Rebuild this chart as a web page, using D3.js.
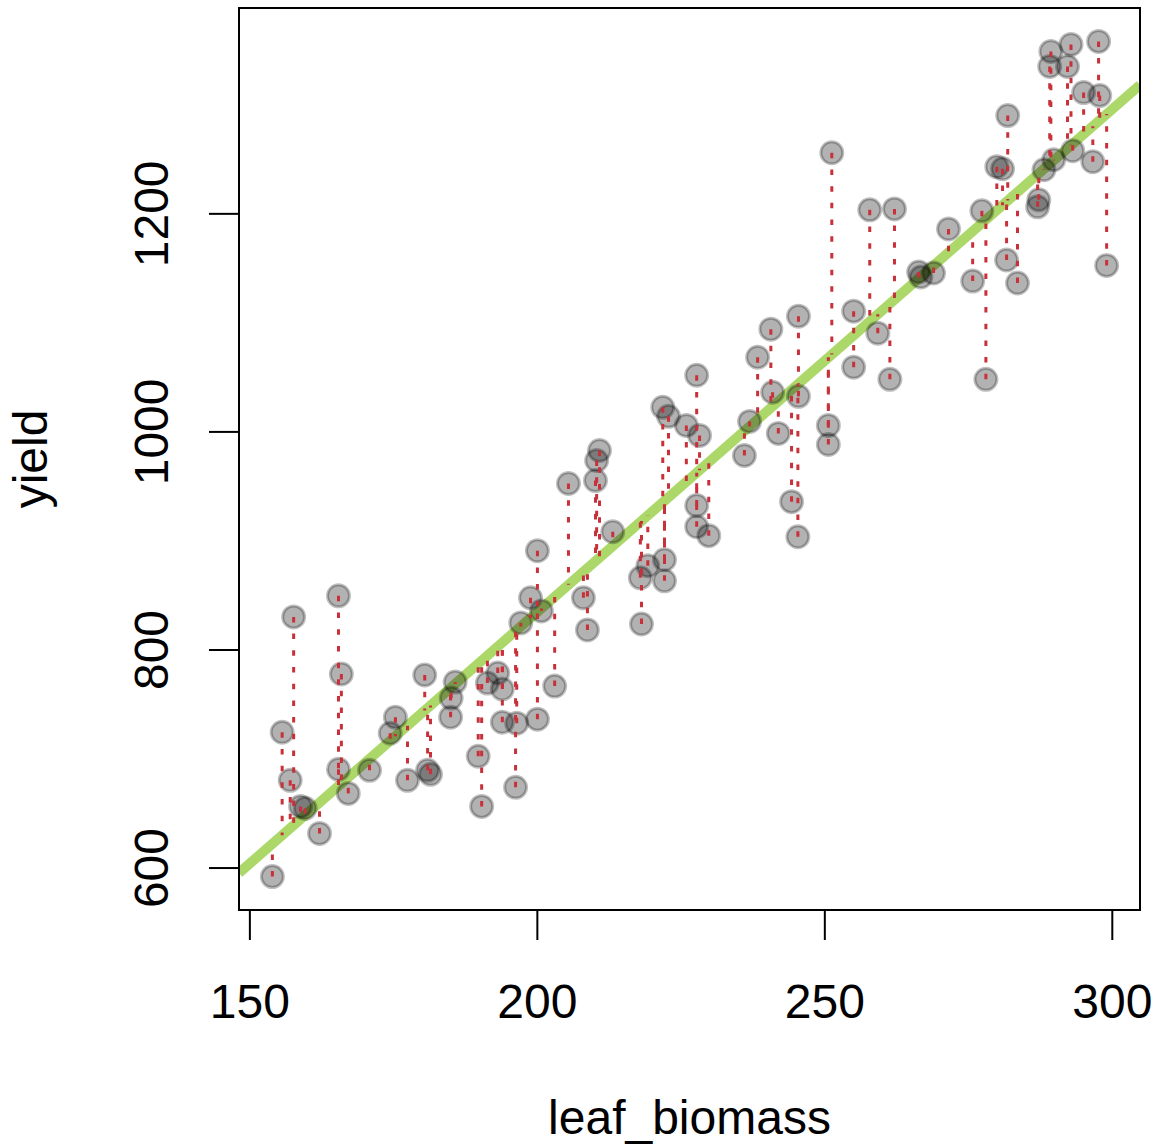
<!DOCTYPE html>
<html>
<head>
<meta charset="utf-8">
<script src="https://cdn.jsdelivr.net/npm/d3@7"></script>
<style>
  body { margin: 0; background: #fff; }
  svg text { font-family: "Liberation Sans", Arial, Helvetica, sans-serif; fill: #000; }
</style>
</head>
<body>
<svg id="chart" width="1159" height="1147"></svg>
<script>
/** data **/
var leafBiomass = [154.0, 155.7, 157.7, 157.1, 158.9, 159.7, 162.2, 165.5, 166.0, 165.5,
  167.2, 170.9, 174.5, 175.4, 177.5, 180.5, 181.0, 181.5, 185.0, 185.1,
  185.8, 189.8, 190.4, 191.4, 193.2, 194.0, 194.0, 196.5, 196.3, 197.2,
  198.9, 200.1, 200.8, 200.1, 203.1, 205.5, 208.1, 208.8, 210.9, 210.4,
  210.2, 213.2, 218.0, 218.2, 219.3, 222.2, 222.2, 221.9, 222.9, 226.0,
  228.3, 227.8, 227.8, 227.8, 229.9, 236.1, 237.0, 238.4, 240.7, 241.0,
  242.0, 244.3, 245.5, 245.5, 245.4, 250.7, 250.7, 251.3, 255.1, 259.3,
  255.1, 261.4, 257.9, 262.2, 266.4, 266.8, 269.0, 271.6, 275.8, 277.4,
  278.1, 280.0, 281.0, 281.7, 281.9, 283.6, 287.3, 287.1, 288.2, 289.9,
  293.2, 296.7, 299.1, 289.4, 289.2, 292.3, 292.9, 297.7, 295.1, 297.9];
var yieldVals = [591.7, 724.1, 829.9, 680.0, 656.1, 654.3, 631.3, 849.2, 777.5, 690.1,
  668.0, 689.2, 723.2, 737.9, 680.0, 776.6, 689.2, 685.5, 737.9, 755.4,
  770.1, 702.1, 656.1, 769.2, 778.4, 763.7, 733.3, 732.4, 673.6, 824.4,
  847.4, 736.1, 835.4, 890.6, 766.4, 952.2, 847.4, 817.9, 982.5, 973.3,
  954.9, 908.0, 865.7, 823.4, 876.8, 882.3, 863.0, 1022.1, 1013.8, 1005.5,
  996.3, 1051.5, 932.0, 912.6, 904.4, 977.9, 1009.2, 1068.0, 1093.8, 1035.9,
  998.2, 935.6, 1105.7, 1032.2, 903.4, 1005.5, 988.0, 1255.6, 1110.3, 1090.1,
  1058.9, 1047.8, 1203.2, 1204.1, 1146.2, 1141.6, 1145.3, 1185.7, 1137.9, 1202.3,
  1047.8, 1242.8, 1240.9, 1157.2, 1289.7, 1136.1, 1212.4, 1206.0, 1240.0, 1249.2,
  1257.5, 1247.4, 1152.2, 1348.5, 1334.7, 1334.7, 1354.9, 1357.7, 1310.8, 1308.0];
var xTicks = [150, 200, 250, 300];
var yTicks = [600, 800, 1000, 1200];
var xLabel = "leaf_biomass";
var yLabel = "yield";

/** layout **/
var box = { left: 239, right: 1140, top: 8, bottom: 910 };
var svg = d3.select("#chart");

var points = leafBiomass.map(function(d, i) { return { x: d, y: yieldVals[i] }; });

// R style axis range: data range plus 4% each side
function padded(ext) {
  var p = (ext[1] - ext[0]) * 0.04;
  return [ext[0] - p, ext[1] + p];
}
var x = d3.scaleLinear().domain(padded(d3.extent(leafBiomass))).range([box.left, box.right]);
var y = d3.scaleLinear().domain(padded(d3.extent(yieldVals))).range([box.bottom, box.top]);

// least squares fit, like lm(yield ~ leaf_biomass)
var mx = d3.mean(leafBiomass), my = d3.mean(yieldVals);
var sxy = d3.sum(points, function(p) { return (p.x - mx) * (p.y - my); });
var sxx = d3.sum(points, function(p) { return (p.x - mx) * (p.x - mx); });
var slope = sxy / sxx;
var intercept = my - slope * mx;
var fitted = function(v) { return intercept + slope * v; };

svg.append("clipPath").attr("id", "plotclip")
  .append("rect")
  .attr("x", box.left).attr("y", box.top)
  .attr("width", box.right - box.left).attr("height", box.bottom - box.top);

var plot = svg.append("g").attr("clip-path", "url(#plotclip)");

// regression line across the whole box
var xd = x.domain();
plot.append("line")
  .attr("x1", x(xd[0])).attr("y1", y(fitted(xd[0])))
  .attr("x2", x(xd[1])).attr("y2", y(fitted(xd[1])))
  .attr("stroke", "#a3d45a")
  .attr("stroke-opacity", 0.9)
  .attr("stroke-width", 10);

// points
plot.selectAll("circle")
  .data(points)
  .enter()
  .append("circle")
  .attr("cx", function(d) { return x(d.x); })
  .attr("cy", function(d) { return y(d.y); })
  .attr("r", 11)
  .attr("fill", "rgba(0,0,0,0.3)")
  .attr("stroke", "rgba(0,0,0,0.25)")
  .attr("stroke-width", 3);

// residuals
plot.selectAll("line.resid")
  .data(points)
  .enter()
  .append("line")
  .attr("class", "resid")
  .attr("x1", function(d) { return x(d.x); })
  .attr("x2", function(d) { return x(d.x); })
  .attr("y1", function(d) { return y(d.y); })
  .attr("y2", function(d) { return y(fitted(d.x)); })
  .attr("stroke", "#c8303a")
  .attr("stroke-width", 3)
  .attr("stroke-dasharray", "5.5,11.2");

// box
svg.append("rect")
  .attr("x", box.left).attr("y", box.top)
  .attr("width", box.right - box.left).attr("height", box.bottom - box.top)
  .attr("fill", "none").attr("stroke", "#000").attr("stroke-width", 2);

// axes (R style: line only between end ticks)
var fmt = d3.format("d");
var xAxis = d3.axisBottom(x).tickValues(xTicks).tickFormat(fmt).tickSize(30).tickSizeOuter(0);
var gx = svg.append("g").attr("transform", "translate(0," + box.bottom + ")").call(xAxis);
gx.select(".domain").attr("d", "M" + x(xTicks[0]) + ",0H" + x(xTicks[xTicks.length - 1]))
  .attr("stroke-width", 2);
gx.selectAll(".tick line").attr("stroke-width", 2);
gx.selectAll(".tick text").attr("font-size", 48).attr("font-family", "Liberation Sans, Arial, sans-serif")
  .attr("dy", null).attr("y", 108);

var yAxis = d3.axisLeft(y).tickValues(yTicks).tickFormat(fmt).tickSize(30).tickSizeOuter(0);
var gy = svg.append("g").attr("transform", "translate(" + box.left + ",0)").call(yAxis);
gy.select(".domain").attr("d", "M0," + y(yTicks[0]) + "V" + y(yTicks[yTicks.length - 1]))
  .attr("stroke-width", 2);
gy.selectAll(".tick line").attr("stroke-width", 2);
gy.selectAll(".tick text")
  .attr("font-size", 48).attr("font-family", "Liberation Sans, Arial, sans-serif")
  .attr("x", null).attr("dy", null)
  .attr("text-anchor", "middle")
  .attr("transform", "translate(-71,0) rotate(-90)");

// axis titles
svg.append("text")
  .attr("x", (box.left + box.right) / 2).attr("y", 1134)
  .attr("text-anchor", "middle").attr("font-size", 48)
  .text(xLabel);
svg.append("text")
  .attr("transform", "translate(47," + (box.top + box.bottom) / 2 + ") rotate(-90)")
  .attr("text-anchor", "middle").attr("font-size", 48)
  .text(yLabel);
</script>
</body>
</html>
